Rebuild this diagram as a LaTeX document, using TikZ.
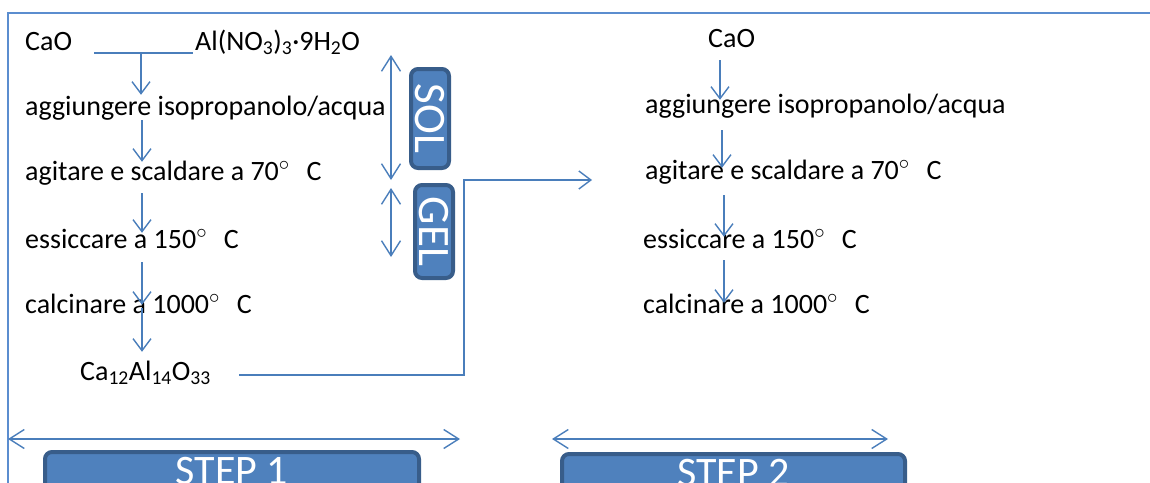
\documentclass[tikz,border=0pt]{standalone}
\usepackage{fontspec}
\setmainfont{Carlito}
\usetikzlibrary{arrows.meta,calc}
\definecolor{linkblue}{HTML}{4A7EBB}
\definecolor{boxfill}{HTML}{4F81BD}
\definecolor{boxedge}{HTML}{385D8A}
\definecolor{framecol}{HTML}{5B8DCF}
\newcommand{\degC}[1]{#1$^{\circ}$\hspace{0.6em}C}
\begin{document}
\begin{tikzpicture}[x=1pt,y=-1pt,
  txt/.style={inner sep=0pt, anchor=base west, font=\fontsize{28}{33}\selectfont,
              text height=20pt, text depth=6pt},
  plain/.style={draw=linkblue, line width=1.4pt},
  flow/.style={plain, -{Straight Barb[length=12pt,width=18pt]}},
  span/.style={plain, {Straight Barb[length=15pt,width=19pt]}-{Straight Barb[length=15pt,width=19pt]}},
  tag/.style={draw=boxedge, fill=boxfill, line width=4pt, rounded corners=7pt,
              inner sep=0pt, text=white},
  phase/.style={tag, rotate=-90, minimum height=38pt, font=\fontsize{45}{50}\selectfont},
  stepbar/.style={tag, minimum height=38pt, font=\fontsize{42}{48}\selectfont}
]
\useasboundingbox (0,0) rectangle (1150,482);
\clip (0,0) rectangle (1150,482);

% outer frame
\draw[framecol, line width=2pt] (1152,13) -- (8,13) -- (8,484);

% ---- step 1: sol-gel route ----
\node[txt] (cao1) at (25,50) {CaO};
\node[txt] (al)   at (195,50) {Al(NO\textsubscript{3})\textsubscript{3}·9H\textsubscript{2}O};
\node[txt] (l1) at (25,115) {aggiungere isopropanolo/acqua};
\node[txt] (l2) at (25,180) {agitare e scaldare a \degC{70}};
\node[txt] (l3) at (25,248) {essiccare a \degC{150}};
\node[txt] (l4) at (25,313) {calcinare a \degC{1000}};
\node[txt] (l5) at (80,380) {Ca\textsubscript{12}Al\textsubscript{14}O\textsubscript{33}};

\coordinate (ax) at (142,0);
\coordinate (fork) at (141,53);
\draw[plain] ($(fork -| cao1.east)+(22,0)$) -- ($(fork -| al.west)+(-2,0)$);
\draw[flow] (fork) -- (l1.north -| fork);
\draw[flow] ($(l1.south -| ax)+(0,-1)$) -- ($(l2.north -| ax)+(0,2)$);
\draw[flow] ($(l2.south -| ax)+(0,7)$) -- ($(l3.north -| ax)+(0,5)$);
\draw[flow] ($(l3.south -| ax)+(0,8)$) -- ($(l4.north -| ax)+(0,12)$);
\draw[flow] ($(l4.south -| ax)+(0,-11)$) -- ($(l5.north -| ax)+(0,-8)$);

% sol / gel phases
\coordinate (solA) at (391,55);
\coordinate (solB) at (391,180);
\coordinate (gelA) at (391,188);
\coordinate (gelB) at (391,257);
\draw[span] (solA) -- (solB);
\draw[span] (gelA) -- (gelB);
\node[phase, minimum width=99pt] (sol) at (430,118.5) {SOL};
\node[phase, minimum width=93pt] (gel) at (434,231.5) {GEL};

% ---- step 2: regeneration ----
\node[txt] (r0) at (708,47) {CaO};
\node[txt] (r1) at (645,113) {aggiungere isopropanolo/acqua};
\node[txt] (r2) at (645,179) {agitare e scaldare a \degC{70}};
\node[txt] (r3) at (643,248) {essiccare a \degC{150}};
\node[txt] (r4) at (643,313) {calcinare a \degC{1000}};

\coordinate (bx) at (720,0);
\draw[flow] ($(r0.south -| bx)+(0,7)$) -- ($(r1.north -| bx)+(0,7)$);
\draw[flow] ($(r1.south -| bx)+(2,11)$) -- ($(r2.north -| bx)+(2,9)$);
\draw[flow] ($(r2.south -| bx)+(4,10)$) -- ($(r3.north -| bx)+(4,9)$);
\draw[flow] ($(r3.south -| bx)+(4,6)$) -- ($(r4.north -| bx)+(4,10)$);

% product fed into step 2
\coordinate (bend) at (464,180);
\draw[flow] ($(l5.base east)+(28,-5)$) -| (bend) -- ($(r2.base west)+(-53,1)$);

% step spans and labels
\coordinate (s1a) at (8,439);
\coordinate (s1b) at (460,439);
\coordinate (s2a) at (552,439);
\coordinate (s2b) at (888,439);
\draw[span] (s1a) -- (s1b);
\draw[span] (s2a) -- (s2b);
\node[stepbar, minimum width=374pt] (step1) at (232,471) {STEP 1};
\node[stepbar, minimum width=343pt] (step2) at (733.5,473) {STEP 2};
\end{tikzpicture}
\end{document}
